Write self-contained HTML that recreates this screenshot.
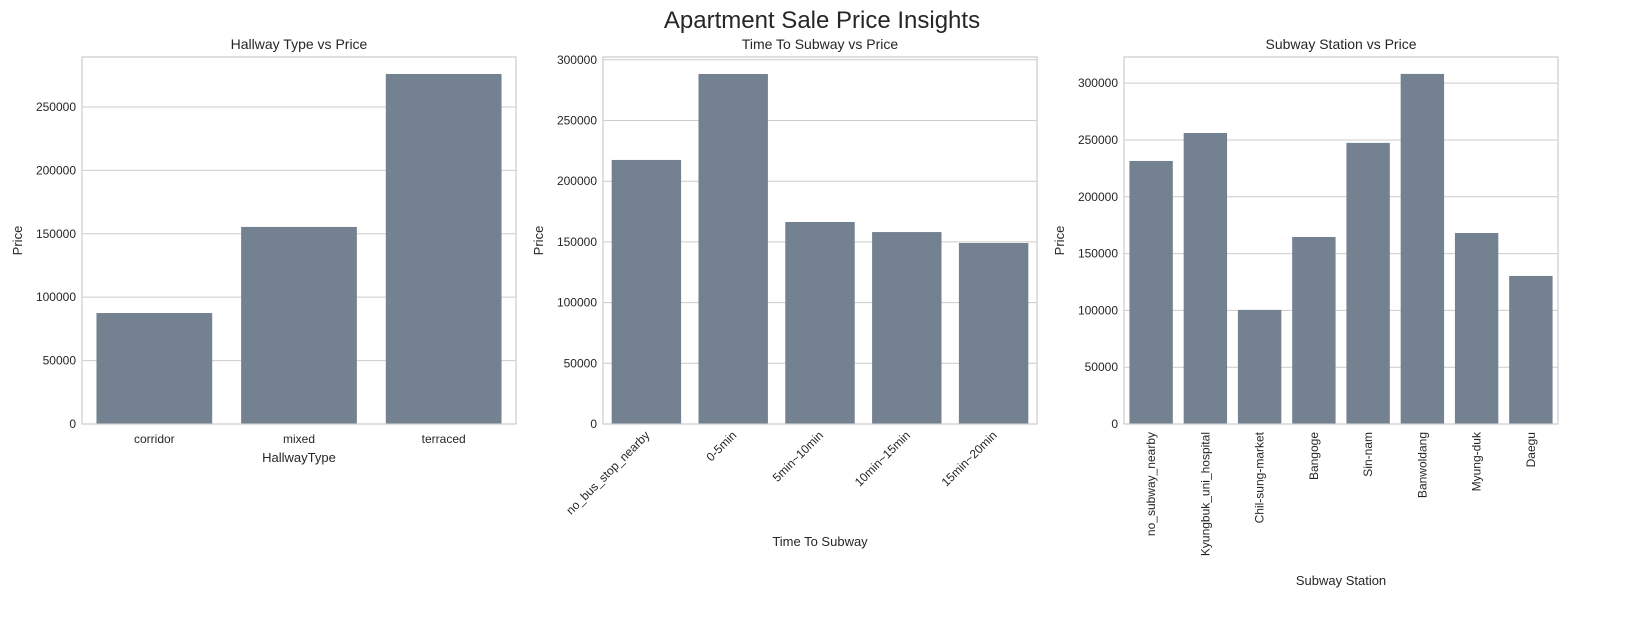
<!DOCTYPE html>
<html><head><meta charset="utf-8">
<style>
html,body{margin:0;padding:0;background:#fff;overflow:hidden;width:1645px;height:628px;}
svg{display:block;}
svg text{font-family:"Liberation Sans","DejaVu Sans",sans-serif;fill:#262626;}
</style></head>
<body>
<svg id="chart" width="1645" height="628" xmlns="http://www.w3.org/2000/svg">
<text x="822" y="28" text-anchor="middle" font-size="24">Apartment Sale Price Insights</text>
</svg>
<script>
const hallCats = ["corridor","mixed","terraced"];
const hallVals = [87500,155400,276000];
const hallTicks = [0,50000,100000,150000,200000,250000];
const subTimeCats = ["no_bus_stop_nearby","0-5min","5min~10min","10min~15min","15min~20min"];
const subTimeVals = [217500,288300,166400,158100,149100];
const subTimeTicks = [0,50000,100000,150000,200000,250000,300000];
const stationCats = ["no_subway_nearby","Kyungbuk_uni_hospital","Chil-sung-market","Bangoge","Sin-nam","Banwoldang","Myung-duk","Daegu"];
const stationVals = [231500,256100,100400,164600,247400,308100,168100,130300];
const stationTicks = [0,50000,100000,150000,200000,250000,300000];

const NS="http://www.w3.org/2000/svg";
const svg=document.getElementById('chart');
function mk(tag,attrs,parent){const e=document.createElementNS(NS,tag);for(const k in attrs)e.setAttribute(k,attrs[k]);(parent||svg).appendChild(e);return e;}

function panel(cfg){
  const {x0,x1,y0,y1,ymax,cats,vals,ticks,title,xlabel,rot,xlabelY,key}=cfg;
  const g=mk('g',{});
  
  
  const ys=v=>y1-(v/ymax)*(y1-y0);
  const band=(x1-x0)/cats.length;
  const xc=i=>x0+band*(i+0.5);
  ticks.forEach(t=>{
    const y=ys(t);
    const l=mk('line',{x1:x0,x2:x1,y1:y,y2:y,stroke:'#cccccc','stroke-width':1},g);
    
    
    const tx=mk('text',{x:x0-6,y:y+4,'text-anchor':'end','font-size':12},g);
    tx.textContent=t;
    
    
  });
  vals.forEach((v,i)=>{
    const w=band*0.8;
    const r=mk('rect',{x:xc(i)-w/2,y:ys(v),width:w,height:y1-ys(v),fill:'#738190'},g);
    
    
  });
  cats.forEach((c,i)=>{
    let tx;
    if(rot===0){tx=mk('text',{x:xc(i),y:y1+19,'text-anchor':'middle','font-size':12},g);}
    else if(rot===45){tx=mk('text',{x:xc(i)+4,y:y1+12,'text-anchor':'end','font-size':12,transform:`rotate(-45 ${xc(i)+4} ${y1+12})`},g);}
    else {tx=mk('text',{x:xc(i)+4,y:y1+8,'text-anchor':'end','font-size':12,transform:`rotate(-90 ${xc(i)+4} ${y1+8})`},g);}
    tx.textContent=c;
    
    
  });
  const box=mk('rect',{x:x0,y:y0,width:x1-x0,height:y1-y0,fill:'none',stroke:'#cccccc','stroke-width':1.2},g);
  
  
  const t=mk('text',{x:(x0+x1)/2,y:y0-8,'text-anchor':'middle','font-size':14},g);
  t.textContent=title;
  
  
  const xl=mk('text',{x:(x0+x1)/2,y:xlabelY,'text-anchor':'middle','font-size':13},g);
  xl.textContent=xlabel;
  
  
  const yl=mk('text',{x:x0-60,y:(y0+y1)/2,'text-anchor':'middle','font-size':13,transform:`rotate(-90 ${x0-60} ${(y0+y1)/2})`},g);
  yl.textContent='Price';
  
  
}
panel({key:'hallway',x0:82,x1:516,y0:57,y1:424,ymax:289400,cats:hallCats,vals:hallVals,ticks:hallTicks,title:'Hallway Type vs Price',xlabel:'HallwayType',rot:0,xlabelY:462});
panel({key:'time-to-subway',x0:603,x1:1037,y0:57,y1:424,ymax:302300,cats:subTimeCats,vals:subTimeVals,ticks:subTimeTicks,title:'Time To Subway vs Price',xlabel:'Time To Subway',rot:45,xlabelY:546});
panel({key:'subway-station',x0:1124,x1:1558,y0:57,y1:424,ymax:323000,cats:stationCats,vals:stationVals,ticks:stationTicks,title:'Subway Station vs Price',xlabel:'Subway Station',rot:90,xlabelY:585});
</script>
</body></html>
